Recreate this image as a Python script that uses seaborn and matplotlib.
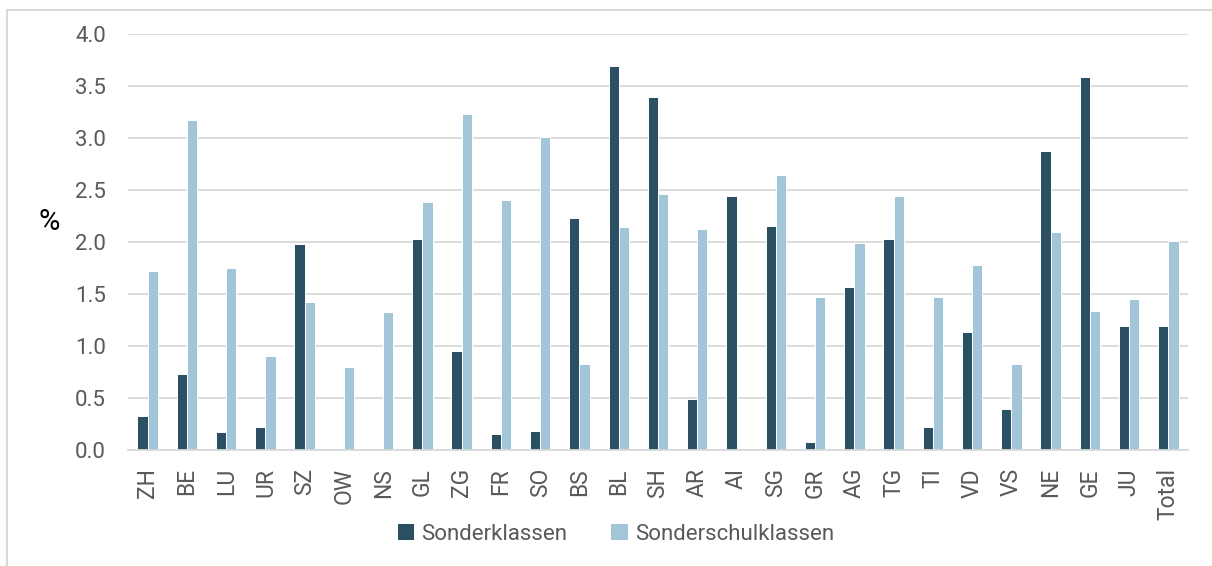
import numpy as np
import pandas as pd
import matplotlib
matplotlib.use("Agg")
import matplotlib.pyplot as plt
import seaborn as sns
from matplotlib.patches import Rectangle, Patch

# cantons and the two series (% of pupils)
cantons = ["ZH", "BE", "LU", "UR", "SZ", "OW", "NS", "GL", "ZG", "FR", "SO", "BS", "BL", "SH",
           "AR", "AI", "SG", "GR", "AG", "TG", "TI", "VD", "VS", "NE", "GE", "JU", "Total"]
sonderklassen = [0.33, 0.73, 0.17, 0.22, 1.98, 0.0, 0.0, 2.03, 0.95, 0.15, 0.18, 2.23, 3.69, 3.39,
                 0.49, 2.44, 2.15, 0.08, 1.57, 2.03, 0.22, 1.13, 0.39, 2.87, 3.58, 1.19, 1.19]
sonderschulklassen = [1.72, 3.17, 1.75, 0.90, 1.42, 0.80, 1.33, 2.38, 3.23, 2.40, 3.01, 0.83, 2.14, 2.46,
                      2.12, 0.0, 2.64, 1.47, 1.99, 2.44, 1.47, 1.78, 0.83, 2.09, 1.34, 1.45, 2.01]
series_names = ["Sonderklassen", "Sonderschulklassen"]
colors = ["#2C5063", "#A2C5D7"]

df = pd.DataFrame({
    "Kanton": cantons * 2,
    "Anteil": sonderklassen + sonderschulklassen,
    "Typ": [series_names[0]] * len(cantons) + [series_names[1]] * len(cantons),
})

sns.set_style("white")
plt.rcParams["font.family"] = ["Roboto", "DejaVu Sans"]

fig = plt.figure(figsize=(12.12, 5.66), dpi=100)
ax = fig.add_axes([0.1056, 0.205, 0.8746, 0.7355])

sns.barplot(data=df, x="Kanton", y="Anteil", hue="Typ", order=cantons, hue_order=series_names,
            palette=colors, saturation=1, width=0.52, edgecolor="white", linewidth=0.7,
            legend=False, ax=ax)

ax.set_xlim(-0.5, len(cantons) - 0.5)
ax.set_ylim(0, 4.0)
ax.set_yticks(np.arange(0, 4.01, 0.5))
ax.set_yticklabels([f"{v:.1f}" for v in np.arange(0, 4.01, 0.5)])
ax.yaxis.grid(True, color="#D9D9D9", linewidth=1.3)
ax.set_axisbelow(True)
for s in ["top", "right", "left"]:
    ax.spines[s].set_visible(False)
ax.spines["bottom"].set_color("#D9D9D9")
ax.spines["bottom"].set_linewidth(1.3)
ax.tick_params(axis="y", length=0, pad=16, labelsize=16, labelcolor="#595959")
ax.tick_params(axis="x", length=0, pad=13, labelsize=16.5, labelcolor="#595959", rotation=90)
ax.set_xlabel("")
ax.set_ylabel("%", rotation=0, fontsize=21, color="black", labelpad=0, va="center", ha="center")
ax.yaxis.set_label_coords(-0.074, 0.548)

handles = [Patch(facecolor=c, edgecolor="none") for c in colors]
fig.legend(handles, series_names, loc="center", bbox_to_anchor=(0.508, 0.0565), ncol=2,
           frameon=False, fontsize=16, handlelength=0.75, handleheight=0.75, handletextpad=0.3,
           columnspacing=2.0, labelcolor="#595959")

# outer chart frame (cut off at right and bottom)
fig.patches.append(Rectangle((7 / 1212, -0.05), 1.1, 1 - 10 / 566 + 0.05, transform=fig.transFigure,
                             fill=False, edgecolor="#D9D9D9", linewidth=1.5))

fig.savefig("out.png", dpi=100)
